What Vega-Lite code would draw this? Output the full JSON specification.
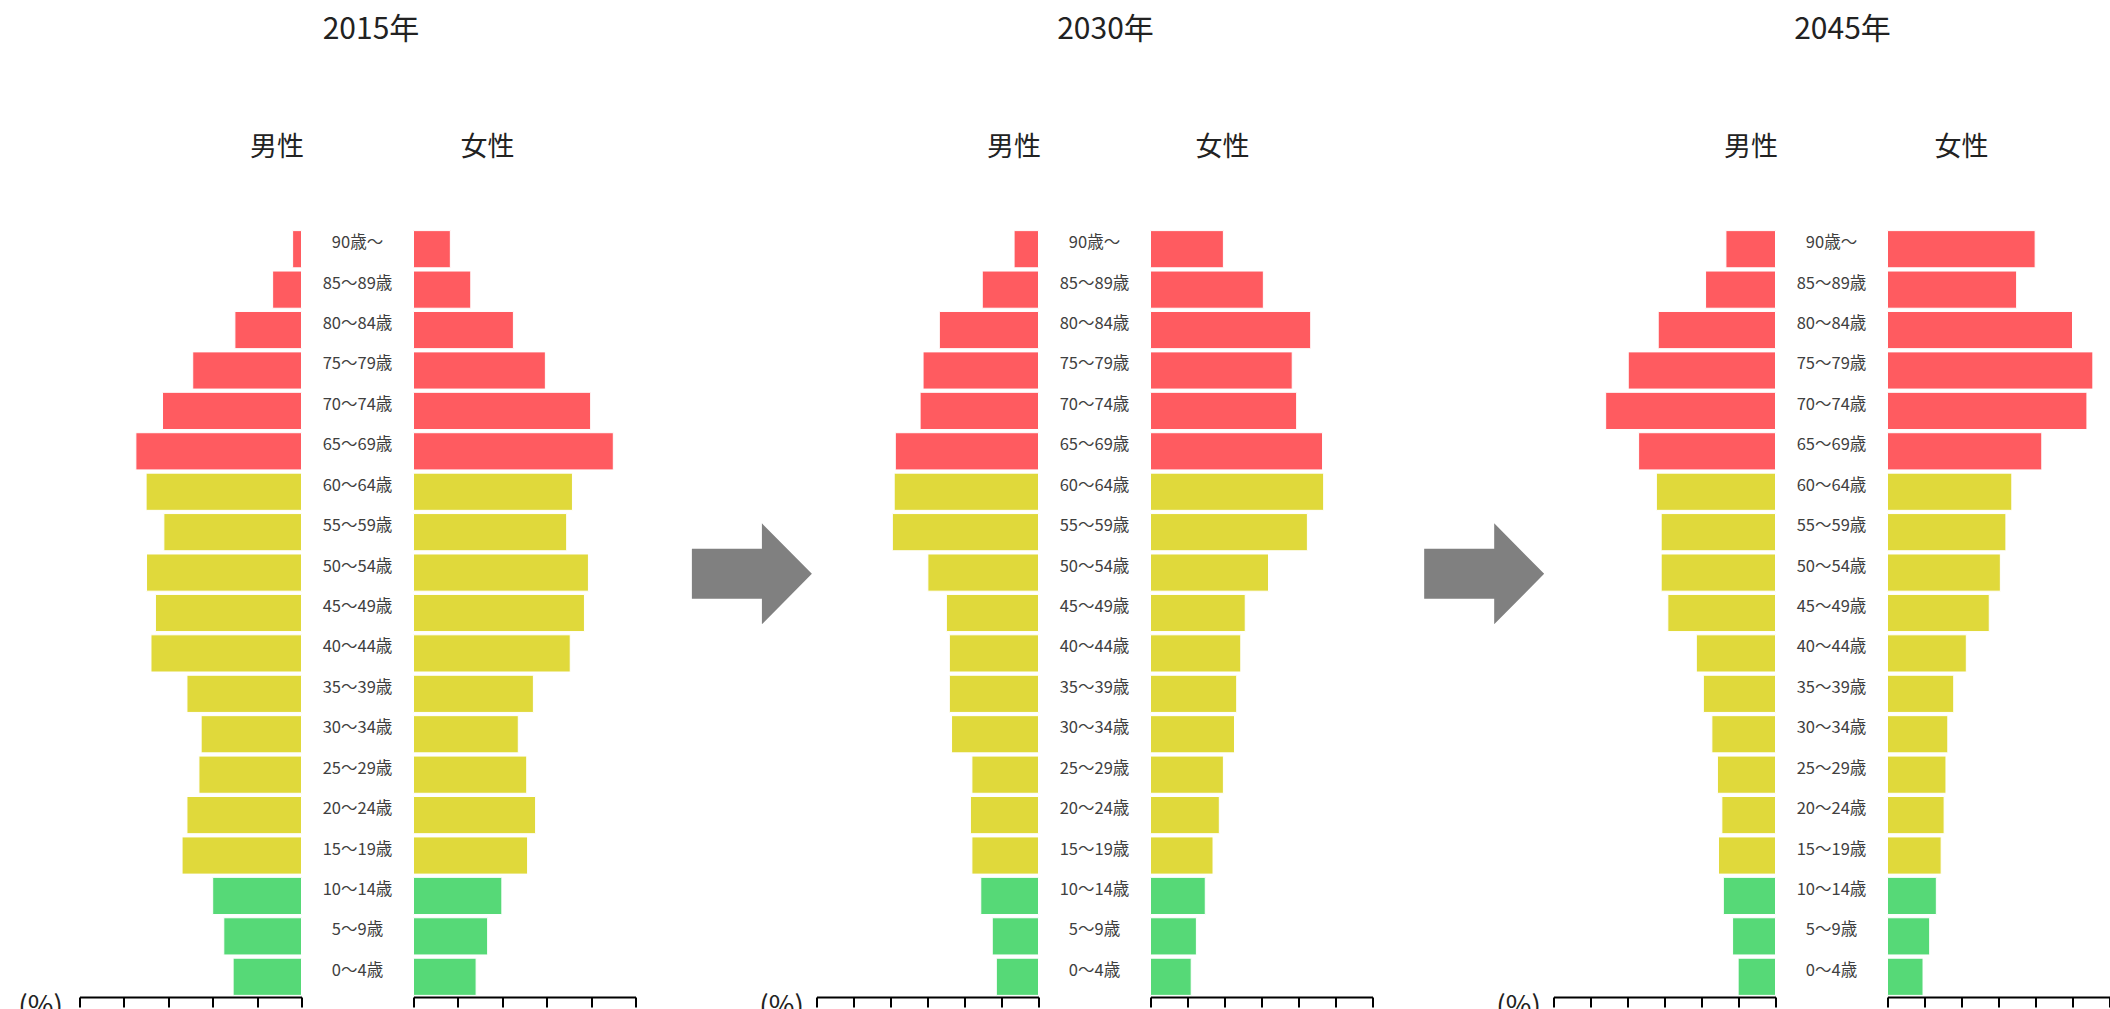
{
  "$schema": "https://vega.github.io/schema/vega-lite/v6.json",
  "padding": {"left": 17.5, "top": 15, "right": 0, "bottom": 0},
  "spacing": 0,
  "bounds": "flush",
  "config": {"view": {"stroke": null}, "font": "Noto Sans CJK JP"},
  "datasets": {
    "pop": [
      {"year":"2015年","sex":"男性","age":"90歳～","group":"老年","value":0.20},
      {"year":"2015年","sex":"男性","age":"85～89歳","group":"老年","value":0.65},
      {"year":"2015年","sex":"男性","age":"80～84歳","group":"老年","value":1.50},
      {"year":"2015年","sex":"男性","age":"75～79歳","group":"老年","value":2.45},
      {"year":"2015年","sex":"男性","age":"70～74歳","group":"老年","value":3.13},
      {"year":"2015年","sex":"男性","age":"65～69歳","group":"老年","value":3.73},
      {"year":"2015年","sex":"男性","age":"60～64歳","group":"生産年齢","value":3.50},
      {"year":"2015年","sex":"男性","age":"55～59歳","group":"生産年齢","value":3.10},
      {"year":"2015年","sex":"男性","age":"50～54歳","group":"生産年齢","value":3.49},
      {"year":"2015年","sex":"男性","age":"45～49歳","group":"生産年齢","value":3.29},
      {"year":"2015年","sex":"男性","age":"40～44歳","group":"生産年齢","value":3.39},
      {"year":"2015年","sex":"男性","age":"35～39歳","group":"生産年齢","value":2.58},
      {"year":"2015年","sex":"男性","age":"30～34歳","group":"生産年齢","value":2.26},
      {"year":"2015年","sex":"男性","age":"25～29歳","group":"生産年齢","value":2.31},
      {"year":"2015年","sex":"男性","age":"20～24歳","group":"生産年齢","value":2.58},
      {"year":"2015年","sex":"男性","age":"15～19歳","group":"生産年齢","value":2.69},
      {"year":"2015年","sex":"男性","age":"10～14歳","group":"年少","value":2.00},
      {"year":"2015年","sex":"男性","age":"5～9歳","group":"年少","value":1.75},
      {"year":"2015年","sex":"男性","age":"0～4歳","group":"年少","value":1.54},
      {"year":"2015年","sex":"女性","age":"90歳～","group":"老年","value":0.83},
      {"year":"2015年","sex":"女性","age":"85～89歳","group":"老年","value":1.29},
      {"year":"2015年","sex":"女性","age":"80～84歳","group":"老年","value":2.25},
      {"year":"2015年","sex":"女性","age":"75～79歳","group":"老年","value":2.97},
      {"year":"2015年","sex":"女性","age":"70～74歳","group":"老年","value":3.99},
      {"year":"2015年","sex":"女性","age":"65～69歳","group":"老年","value":4.50},
      {"year":"2015年","sex":"女性","age":"60～64歳","group":"生産年齢","value":3.58},
      {"year":"2015年","sex":"女性","age":"55～59歳","group":"生産年齢","value":3.45},
      {"year":"2015年","sex":"女性","age":"50～54歳","group":"生産年齢","value":3.94},
      {"year":"2015年","sex":"女性","age":"45～49歳","group":"生産年齢","value":3.85},
      {"year":"2015年","sex":"女性","age":"40～44歳","group":"生産年齢","value":3.53},
      {"year":"2015年","sex":"女性","age":"35～39歳","group":"生産年齢","value":2.70},
      {"year":"2015年","sex":"女性","age":"30～34歳","group":"生産年齢","value":2.36},
      {"year":"2015年","sex":"女性","age":"25～29歳","group":"生産年齢","value":2.55},
      {"year":"2015年","sex":"女性","age":"20～24歳","group":"生産年齢","value":2.75},
      {"year":"2015年","sex":"女性","age":"15～19歳","group":"生産年齢","value":2.57},
      {"year":"2015年","sex":"女性","age":"10～14歳","group":"年少","value":1.99},
      {"year":"2015年","sex":"女性","age":"5～9歳","group":"年少","value":1.67},
      {"year":"2015年","sex":"女性","age":"0～4歳","group":"年少","value":1.41},
      {"year":"2030年","sex":"男性","age":"90歳～","group":"老年","value":0.66},
      {"year":"2030年","sex":"男性","age":"85～89歳","group":"老年","value":1.52},
      {"year":"2030年","sex":"男性","age":"80～84歳","group":"老年","value":2.68},
      {"year":"2030年","sex":"男性","age":"75～79歳","group":"老年","value":3.12},
      {"year":"2030年","sex":"男性","age":"70～74歳","group":"老年","value":3.20},
      {"year":"2030年","sex":"男性","age":"65～69歳","group":"老年","value":3.87},
      {"year":"2030年","sex":"男性","age":"60～64歳","group":"生産年齢","value":3.90},
      {"year":"2030年","sex":"男性","age":"55～59歳","group":"生産年齢","value":3.95},
      {"year":"2030年","sex":"男性","age":"50～54歳","group":"生産年齢","value":2.99},
      {"year":"2030年","sex":"男性","age":"45～49歳","group":"生産年齢","value":2.49},
      {"year":"2030年","sex":"男性","age":"40～44歳","group":"生産年齢","value":2.41},
      {"year":"2030年","sex":"男性","age":"35～39歳","group":"生産年齢","value":2.41},
      {"year":"2030年","sex":"男性","age":"30～34歳","group":"生産年齢","value":2.35},
      {"year":"2030年","sex":"男性","age":"25～29歳","group":"生産年齢","value":1.80},
      {"year":"2030年","sex":"男性","age":"20～24歳","group":"生産年齢","value":1.84},
      {"year":"2030年","sex":"男性","age":"15～19歳","group":"生産年齢","value":1.80},
      {"year":"2030年","sex":"男性","age":"10～14歳","group":"年少","value":1.56},
      {"year":"2030年","sex":"男性","age":"5～9歳","group":"年少","value":1.25},
      {"year":"2030年","sex":"男性","age":"0～4歳","group":"年少","value":1.14},
      {"year":"2030年","sex":"女性","age":"90歳～","group":"老年","value":1.97},
      {"year":"2030年","sex":"女性","age":"85～89歳","group":"老年","value":3.05},
      {"year":"2030年","sex":"女性","age":"80～84歳","group":"老年","value":4.33},
      {"year":"2030年","sex":"女性","age":"75～79歳","group":"老年","value":3.83},
      {"year":"2030年","sex":"女性","age":"70～74歳","group":"老年","value":3.95},
      {"year":"2030年","sex":"女性","age":"65～69歳","group":"老年","value":4.65},
      {"year":"2030年","sex":"女性","age":"60～64歳","group":"生産年齢","value":4.68},
      {"year":"2030年","sex":"女性","age":"55～59歳","group":"生産年齢","value":4.24},
      {"year":"2030年","sex":"女性","age":"50～54歳","group":"生産年齢","value":3.19},
      {"year":"2030年","sex":"女性","age":"45～49歳","group":"生産年齢","value":2.56},
      {"year":"2030年","sex":"女性","age":"40～44歳","group":"生産年齢","value":2.44},
      {"year":"2030年","sex":"女性","age":"35～39歳","group":"生産年齢","value":2.33},
      {"year":"2030年","sex":"女性","age":"30～34歳","group":"生産年齢","value":2.27},
      {"year":"2030年","sex":"女性","age":"25～29歳","group":"生産年齢","value":1.97},
      {"year":"2030年","sex":"女性","age":"20～24歳","group":"生産年齢","value":1.86},
      {"year":"2030年","sex":"女性","age":"15～19歳","group":"生産年齢","value":1.69},
      {"year":"2030年","sex":"女性","age":"10～14歳","group":"年少","value":1.48},
      {"year":"2030年","sex":"女性","age":"5～9歳","group":"年少","value":1.24},
      {"year":"2030年","sex":"女性","age":"0～4歳","group":"年少","value":1.10},
      {"year":"2045年","sex":"男性","age":"90歳～","group":"老年","value":1.34},
      {"year":"2045年","sex":"男性","age":"85～89歳","group":"老年","value":1.89},
      {"year":"2045年","sex":"男性","age":"80～84歳","group":"老年","value":3.17},
      {"year":"2045年","sex":"男性","age":"75～79歳","group":"老年","value":3.98},
      {"year":"2045年","sex":"男性","age":"70～74歳","group":"老年","value":4.59},
      {"year":"2045年","sex":"男性","age":"65～69歳","group":"老年","value":3.70},
      {"year":"2045年","sex":"男性","age":"60～64歳","group":"生産年齢","value":3.22},
      {"year":"2045年","sex":"男性","age":"55～59歳","group":"生産年齢","value":3.09},
      {"year":"2045年","sex":"男性","age":"50～54歳","group":"生産年齢","value":3.09},
      {"year":"2045年","sex":"男性","age":"45～49歳","group":"生産年齢","value":2.91},
      {"year":"2045年","sex":"男性","age":"40～44歳","group":"生産年齢","value":2.14},
      {"year":"2045年","sex":"男性","age":"35～39歳","group":"生産年齢","value":1.95},
      {"year":"2045年","sex":"男性","age":"30～34歳","group":"生産年齢","value":1.72},
      {"year":"2045年","sex":"男性","age":"25～29歳","group":"生産年齢","value":1.57},
      {"year":"2045年","sex":"男性","age":"20～24歳","group":"生産年齢","value":1.45},
      {"year":"2045年","sex":"男性","age":"15～19歳","group":"生産年齢","value":1.54},
      {"year":"2045年","sex":"男性","age":"10～14歳","group":"年少","value":1.41},
      {"year":"2045年","sex":"男性","age":"5～9歳","group":"年少","value":1.16},
      {"year":"2045年","sex":"男性","age":"0～4歳","group":"年少","value":1.01},
      {"year":"2045年","sex":"女性","age":"90歳～","group":"老年","value":3.99},
      {"year":"2045年","sex":"女性","age":"85～89歳","group":"老年","value":3.49},
      {"year":"2045年","sex":"女性","age":"80～84歳","group":"老年","value":5.00},
      {"year":"2045年","sex":"女性","age":"75～79歳","group":"老年","value":5.55},
      {"year":"2045年","sex":"女性","age":"70～74歳","group":"老年","value":5.39},
      {"year":"2045年","sex":"女性","age":"65～69歳","group":"老年","value":4.17},
      {"year":"2045年","sex":"女性","age":"60～64歳","group":"生産年齢","value":3.36},
      {"year":"2045年","sex":"女性","age":"55～59歳","group":"生産年齢","value":3.20},
      {"year":"2045年","sex":"女性","age":"50～54歳","group":"生産年齢","value":3.05},
      {"year":"2045年","sex":"女性","age":"45～49歳","group":"生産年齢","value":2.75},
      {"year":"2045年","sex":"女性","age":"40～44歳","group":"生産年齢","value":2.13},
      {"year":"2045年","sex":"女性","age":"35～39歳","group":"生産年齢","value":1.79},
      {"year":"2045年","sex":"女性","age":"30～34歳","group":"生産年齢","value":1.63},
      {"year":"2045年","sex":"女性","age":"25～29歳","group":"生産年齢","value":1.58},
      {"year":"2045年","sex":"女性","age":"20～24歳","group":"生産年齢","value":1.53},
      {"year":"2045年","sex":"女性","age":"15～19歳","group":"生産年齢","value":1.45},
      {"year":"2045年","sex":"女性","age":"10～14歳","group":"年少","value":1.32},
      {"year":"2045年","sex":"女性","age":"5～9歳","group":"年少","value":1.14},
      {"year":"2045年","sex":"女性","age":"0～4歳","group":"年少","value":0.96}
    ],
    "arrows": [
      {"step": "2015→2030", "px": 0.643, "py": 0.551},
      {"step": "2030→2045", "px": 0.617, "py": 0.551}
    ]
  },
  "hconcat": [
    {
      "width": 222, "height": 768,
      "data": {"name": "pop"},
      "title": {"text": "男性", "anchor": "end", "frame": "group", "dx": 2.5, "offset": 67, "fontSize": 27, "fontWeight": "normal", "color": "#222222"},
      "transform": [{"filter": "datum.year === '2015年' && datum.sex === '男性'"}],
      "mark": {"type": "bar", "stroke": "#ffffff", "strokeWidth": 1},
      "encoding": {
        "y": {"field": "age", "type": "nominal", "sort": ["90歳～","85～89歳","80～84歳","75～79歳","70～74歳","65～69歳","60～64歳","55～59歳","50～54歳","45～49歳","40～44歳","35～39歳","30～34歳","25～29歳","20～24歳","15～19歳","10～14歳","5～9歳","0～4歳"], "scale": {"paddingInner": 0.08, "paddingOuter": 0.04}, "axis": null},
        "x": {"field": "value", "type": "quantitative", "scale": {"domain": [0, 5], "reverse": true},
          "axis": {"values": [0,1,2,3,4,5], "grid": false, "labels": false, "domainColor": "#000000", "domainWidth": 2, "tickColor": "#000000", "tickWidth": 2, "tickSize": 10,
            "title": "(%)", "titleAlign": "right", "titleBaseline": "top", "titleX": -17, "titleY": -4, "titleFontSize": 28, "titleFontWeight": "normal", "titleColor": "#222222"}},
        "color": {"field": "group", "type": "nominal", "scale": {"domain": ["老年","生産年齢","年少"], "range": ["#ff5b60","#e0d93b","#56d977"]}, "legend": null}
      }
    },
    {
      "width": 112, "height": 768,
      "data": {"name": "pop"},
      "title": {"text": "2015年", "anchor": "middle", "frame": "group", "dx": 13.5, "offset": 184, "fontSize": 30, "fontWeight": "normal", "color": "#222222"},
      "transform": [{"filter": "datum.year === '2015年' && datum.sex === '男性'"}],
      "mark": {"type": "text", "fontSize": 16.5, "color": "#404040", "baseline": "middle", "dy": -6},
      "encoding": {
        "y": {"field": "age", "type": "nominal", "sort": ["90歳～","85～89歳","80～84歳","75～79歳","70～74歳","65～69歳","60～64歳","55～59歳","50～54歳","45～49歳","40～44歳","35～39歳","30～34歳","25～29歳","20～24歳","15～19歳","10～14歳","5～9歳","0～4歳"], "scale": {"paddingInner": 0.08, "paddingOuter": 0.04}, "axis": null},
        "text": {"field": "age", "type": "nominal"}
      }
    },
    {
      "width": 222, "height": 768,
      "data": {"name": "pop"},
      "title": {"text": "女性", "anchor": "start", "frame": "group", "dx": 47, "offset": 67, "fontSize": 27, "fontWeight": "normal", "color": "#222222"},
      "transform": [{"filter": "datum.year === '2015年' && datum.sex === '女性'"}],
      "mark": {"type": "bar", "stroke": "#ffffff", "strokeWidth": 1},
      "encoding": {
        "y": {"field": "age", "type": "nominal", "sort": ["90歳～","85～89歳","80～84歳","75～79歳","70～74歳","65～69歳","60～64歳","55～59歳","50～54歳","45～49歳","40～44歳","35～39歳","30～34歳","25～29歳","20～24歳","15～19歳","10～14歳","5～9歳","0～4歳"], "scale": {"paddingInner": 0.08, "paddingOuter": 0.04}, "axis": null},
        "x": {"field": "value", "type": "quantitative", "scale": {"domain": [0, 5]},
          "axis": {"values": [0,1,2,3,4,5], "grid": false, "labels": false, "domainColor": "#000000", "domainWidth": 2, "tickColor": "#000000", "tickWidth": 2, "tickSize": 10, "title": null}},
        "color": {"field": "group", "type": "nominal", "scale": {"domain": ["老年","生産年齢","年少"], "range": ["#ff5b60","#e0d93b","#56d977"]}, "legend": null}
      }
    },
    {
      "width": 181, "height": 768,
      "data": {"name": "arrows"},
      "transform": [{"filter": "datum.step === '2015→2030'"}],
      "mark": {"type": "point", "shape": "M-1,-0.417L0.167,-0.417L0.167,-0.842L1,0L0.167,0.842L0.167,0.417L-1,0.417Z", "size": 14400, "filled": true, "color": "#808080", "opacity": 1, "strokeWidth": 0},
      "encoding": {
        "x": {"field": "px", "type": "quantitative", "scale": {"domain": [0, 1]}, "axis": null},
        "y": {"field": "py", "type": "quantitative", "scale": {"domain": [0, 1]}, "axis": null}
      }
    },
    {
      "width": 222, "height": 768,
      "data": {"name": "pop"},
      "title": {"text": "男性", "anchor": "end", "frame": "group", "dx": 2.5, "offset": 67, "fontSize": 27, "fontWeight": "normal", "color": "#222222"},
      "transform": [{"filter": "datum.year === '2030年' && datum.sex === '男性'"}],
      "mark": {"type": "bar", "stroke": "#ffffff", "strokeWidth": 1},
      "encoding": {
        "y": {"field": "age", "type": "nominal", "sort": ["90歳～","85～89歳","80～84歳","75～79歳","70～74歳","65～69歳","60～64歳","55～59歳","50～54歳","45～49歳","40～44歳","35～39歳","30～34歳","25～29歳","20～24歳","15～19歳","10～14歳","5～9歳","0～4歳"], "scale": {"paddingInner": 0.08, "paddingOuter": 0.04}, "axis": null},
        "x": {"field": "value", "type": "quantitative", "scale": {"domain": [0, 6], "reverse": true},
          "axis": {"values": [0,1,2,3,4,5,6], "grid": false, "labels": false, "domainColor": "#000000", "domainWidth": 2, "tickColor": "#000000", "tickWidth": 2, "tickSize": 10,
            "title": "(%)", "titleAlign": "right", "titleBaseline": "top", "titleX": -13, "titleY": -4, "titleFontSize": 28, "titleFontWeight": "normal", "titleColor": "#222222"}},
        "color": {"field": "group", "type": "nominal", "scale": {"domain": ["老年","生産年齢","年少"], "range": ["#ff5b60","#e0d93b","#56d977"]}, "legend": null}
      }
    },
    {
      "width": 112, "height": 768,
      "data": {"name": "pop"},
      "title": {"text": "2030年", "anchor": "middle", "frame": "group", "dx": 11, "offset": 184, "fontSize": 30, "fontWeight": "normal", "color": "#222222"},
      "transform": [{"filter": "datum.year === '2030年' && datum.sex === '男性'"}],
      "mark": {"type": "text", "fontSize": 16.5, "color": "#404040", "baseline": "middle", "dy": -6},
      "encoding": {
        "y": {"field": "age", "type": "nominal", "sort": ["90歳～","85～89歳","80～84歳","75～79歳","70～74歳","65～69歳","60～64歳","55～59歳","50～54歳","45～49歳","40～44歳","35～39歳","30～34歳","25～29歳","20～24歳","15～19歳","10～14歳","5～9歳","0～4歳"], "scale": {"paddingInner": 0.08, "paddingOuter": 0.04}, "axis": null},
        "text": {"field": "age", "type": "nominal"}
      }
    },
    {
      "width": 222, "height": 768,
      "data": {"name": "pop"},
      "title": {"text": "女性", "anchor": "start", "frame": "group", "dx": 45, "offset": 67, "fontSize": 27, "fontWeight": "normal", "color": "#222222"},
      "transform": [{"filter": "datum.year === '2030年' && datum.sex === '女性'"}],
      "mark": {"type": "bar", "stroke": "#ffffff", "strokeWidth": 1},
      "encoding": {
        "y": {"field": "age", "type": "nominal", "sort": ["90歳～","85～89歳","80～84歳","75～79歳","70～74歳","65～69歳","60～64歳","55～59歳","50～54歳","45～49歳","40～44歳","35～39歳","30～34歳","25～29歳","20～24歳","15～19歳","10～14歳","5～9歳","0～4歳"], "scale": {"paddingInner": 0.08, "paddingOuter": 0.04}, "axis": null},
        "x": {"field": "value", "type": "quantitative", "scale": {"domain": [0, 6]},
          "axis": {"values": [0,1,2,3,4,5,6], "grid": false, "labels": false, "domainColor": "#000000", "domainWidth": 2, "tickColor": "#000000", "tickWidth": 2, "tickSize": 10, "title": null}},
        "color": {"field": "group", "type": "nominal", "scale": {"domain": ["老年","生産年齢","年少"], "range": ["#ff5b60","#e0d93b","#56d977"]}, "legend": null}
      }
    },
    {
      "width": 181, "height": 768,
      "data": {"name": "arrows"},
      "transform": [{"filter": "datum.step === '2030→2045'"}],
      "mark": {"type": "point", "shape": "M-1,-0.417L0.167,-0.417L0.167,-0.842L1,0L0.167,0.842L0.167,0.417L-1,0.417Z", "size": 14400, "filled": true, "color": "#808080", "opacity": 1, "strokeWidth": 0},
      "encoding": {
        "x": {"field": "px", "type": "quantitative", "scale": {"domain": [0, 1]}, "axis": null},
        "y": {"field": "py", "type": "quantitative", "scale": {"domain": [0, 1]}, "axis": null}
      }
    },
    {
      "width": 222, "height": 768,
      "data": {"name": "pop"},
      "title": {"text": "男性", "anchor": "end", "frame": "group", "dx": 2.5, "offset": 67, "fontSize": 27, "fontWeight": "normal", "color": "#222222"},
      "transform": [{"filter": "datum.year === '2045年' && datum.sex === '男性'"}],
      "mark": {"type": "bar", "stroke": "#ffffff", "strokeWidth": 1},
      "encoding": {
        "y": {"field": "age", "type": "nominal", "sort": ["90歳～","85～89歳","80～84歳","75～79歳","70～74歳","65～69歳","60～64歳","55～59歳","50～54歳","45～49歳","40～44歳","35～39歳","30～34歳","25～29歳","20～24歳","15～19歳","10～14歳","5～9歳","0～4歳"], "scale": {"paddingInner": 0.08, "paddingOuter": 0.04}, "axis": null},
        "x": {"field": "value", "type": "quantitative", "scale": {"domain": [0, 6], "reverse": true},
          "axis": {"values": [0,1,2,3,4,5,6], "grid": false, "labels": false, "domainColor": "#000000", "domainWidth": 2, "tickColor": "#000000", "tickWidth": 2, "tickSize": 10,
            "title": "(%)", "titleAlign": "right", "titleBaseline": "top", "titleX": -13, "titleY": -4, "titleFontSize": 28, "titleFontWeight": "normal", "titleColor": "#222222"}},
        "color": {"field": "group", "type": "nominal", "scale": {"domain": ["老年","生産年齢","年少"], "range": ["#ff5b60","#e0d93b","#56d977"]}, "legend": null}
      }
    },
    {
      "width": 112, "height": 768,
      "data": {"name": "pop"},
      "title": {"text": "2045年", "anchor": "middle", "frame": "group", "dx": 11, "offset": 184, "fontSize": 30, "fontWeight": "normal", "color": "#222222"},
      "transform": [{"filter": "datum.year === '2045年' && datum.sex === '男性'"}],
      "mark": {"type": "text", "fontSize": 16.5, "color": "#404040", "baseline": "middle", "dy": -6},
      "encoding": {
        "y": {"field": "age", "type": "nominal", "sort": ["90歳～","85～89歳","80～84歳","75～79歳","70～74歳","65～69歳","60～64歳","55～59歳","50～54歳","45～49歳","40～44歳","35～39歳","30～34歳","25～29歳","20～24歳","15～19歳","10～14歳","5～9歳","0～4歳"], "scale": {"paddingInner": 0.08, "paddingOuter": 0.04}, "axis": null},
        "text": {"field": "age", "type": "nominal"}
      }
    },
    {
      "width": 222, "height": 768,
      "data": {"name": "pop"},
      "title": {"text": "女性", "anchor": "start", "frame": "group", "dx": 47, "offset": 67, "fontSize": 27, "fontWeight": "normal", "color": "#222222"},
      "transform": [{"filter": "datum.year === '2045年' && datum.sex === '女性'"}],
      "mark": {"type": "bar", "stroke": "#ffffff", "strokeWidth": 1},
      "encoding": {
        "y": {"field": "age", "type": "nominal", "sort": ["90歳～","85～89歳","80～84歳","75～79歳","70～74歳","65～69歳","60～64歳","55～59歳","50～54歳","45～49歳","40～44歳","35～39歳","30～34歳","25～29歳","20～24歳","15～19歳","10～14歳","5～9歳","0～4歳"], "scale": {"paddingInner": 0.08, "paddingOuter": 0.04}, "axis": null},
        "x": {"field": "value", "type": "quantitative", "scale": {"domain": [0, 6]},
          "axis": {"values": [0,1,2,3,4,5,6], "grid": false, "labels": false, "domainColor": "#000000", "domainWidth": 2, "tickColor": "#000000", "tickWidth": 2, "tickSize": 10, "title": null}},
        "color": {"field": "group", "type": "nominal", "scale": {"domain": ["老年","生産年齢","年少"], "range": ["#ff5b60","#e0d93b","#56d977"]}, "legend": null}
      }
    }
  ]
}
